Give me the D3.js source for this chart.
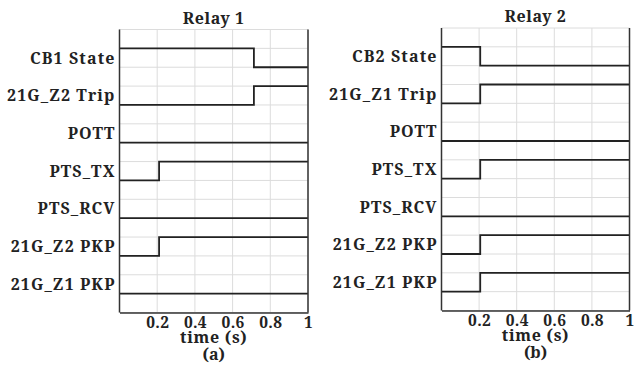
<!DOCTYPE html>
<html>
<head>
<meta charset="utf-8">
<script src="https://cdn.jsdelivr.net/npm/d3@7"></script>
<style>
  html, body { margin: 0; padding: 0; background: #fff; }
  svg { display: block; }
  text { font-family: "Noto Serif", "DejaVu Serif", serif; font-weight: bold; fill: #222; }
</style>
</head>
<body>
<svg id="chart" width="634" height="366"></svg>
<script>
// ---- data ----
const timeTicks = [0.2, 0.4, 0.6, 0.8, 1];
const timeLabel = "time (s)";

const relay1Title = "Relay 1";
const relay1Caption = "(a)";
const relay1Signals = ["CB1 State", "21G_Z2 Trip", "POTT", "PTS_TX", "PTS_RCV", "21G_Z2 PKP", "21G_Z1 PKP"];
// each signal: list of [time, state] change points (step after)
const relay1Steps = [
  [[0, 1], [0.713, 0]],
  [[0, 0], [0.713, 1]],
  [[0, 0]],
  [[0, 0], [0.21, 1]],
  [[0, 0]],
  [[0, 0], [0.21, 1]],
  [[0, 0]]
];

const relay2Title = "Relay 2";
const relay2Caption = "(b)";
const relay2Signals = ["CB2 State", "21G_Z1 Trip", "POTT", "PTS_TX", "PTS_RCV", "21G_Z2 PKP", "21G_Z1 PKP"];
const relay2Steps = [
  [[0, 1], [0.206, 0]],
  [[0, 0], [0.206, 1]],
  [[0, 0]],
  [[0, 0], [0.206, 1]],
  [[0, 0]],
  [[0, 0], [0.206, 1]],
  [[0, 0], [0.206, 1]]
];

// ---- drawing ----
const svg = d3.select("#chart");
const FS = 16;

function drawRelay(cfg) {
  const { left, right, top, bottom, title, caption, signals, steps } = cfg;
  const n = signals.length;
  const x = d3.scaleLinear().domain([0, 1]).range([left, right]);
  const y = d3.scaleLinear().domain([0, 2 * n + 1]).range([bottom, top]);
  const g = svg.append("g");

  // grid
  const gridX = [0].concat(timeTicks);
  g.selectAll(".gx").data(gridX).enter().append("line")
    .attr("x1", d => x(d)).attr("x2", d => x(d))
    .attr("y1", y(0)).attr("y2", y(2 * n + 1))
    .attr("stroke", "#dcdcdc").attr("stroke-width", 1);
  g.selectAll(".gy").data(d3.range(0, 2 * n + 2)).enter().append("line")
    .attr("x1", x(0)).attr("x2", x(1))
    .attr("y1", d => y(d)).attr("y2", d => y(d))
    .attr("stroke", "#dcdcdc").attr("stroke-width", 1);

  // signals
  const line = d3.line().curve(d3.curveStepAfter)
    .x(d => x(d[0])).y(d => d[1]);
  steps.forEach((s, i) => {
    const lo = 2 * (n - i) - 1, hi = 2 * (n - i);
    const pts = s.map(p => [p[0], y(p[1] ? hi : lo)]);
    pts.push([1, pts[pts.length - 1][1]]);
    g.append("path").attr("d", line(pts))
      .attr("fill", "none").attr("stroke", "#222").attr("stroke-width", 1.8);
  });

  // borders (left, right)
  g.append("line").attr("x1", x(0)).attr("x2", x(0)).attr("y1", y(0)).attr("y2", y(2 * n + 1))
    .attr("stroke", "#333").attr("stroke-width", 1.5);
  g.append("line").attr("x1", x(1)).attr("x2", x(1)).attr("y1", y(0)).attr("y2", y(2 * n + 1))
    .attr("stroke", "#333").attr("stroke-width", 1.5);

  // x axis
  const ax = g.append("g").attr("transform", `translate(0,${y(0)})`)
    .call(d3.axisBottom(x).tickValues(timeTicks).tickSize(0).tickPadding(4)
      .tickFormat(d => d === 1 ? "1" : d3.format(".1f")(d)));
  ax.select(".domain").attr("stroke", "#333").attr("stroke-width", 1.5);
  ax.selectAll("text").attr("font-size", 15.5).attr("letter-spacing", 0.3)
    .attr("fill", "#222").attr("dy", null).attr("y", 15.3);

  // signal labels
  g.selectAll(".lab").data(signals).enter().append("text")
    .attr("x", x(0) - 4)
    .attr("y", (d, i) => y(2 * (n - i) - 0.5))
    .attr("dy", "0.36em")
    .attr("text-anchor", "end")
    .attr("font-size", FS)
    .attr("letter-spacing", 1.1)
    .text(d => d);

  // title
  g.append("text").attr("x", (x(0) + x(1)) / 2).attr("y", top - 6)
    .attr("text-anchor", "middle").attr("font-size", FS).attr("letter-spacing", 0.55).text(title);
  // axis title & caption
  g.append("text").attr("x", (x(0) + x(1)) / 2).attr("y", bottom + 30.5)
    .attr("text-anchor", "middle").attr("font-size", FS).attr("letter-spacing", 0.7).text(timeLabel);
  g.append("text").attr("x", (x(0) + x(1)) / 2).attr("y", bottom + 47)
    .attr("text-anchor", "middle").attr("font-size", FS).text(caption);
}

drawRelay({ left: 119.5, right: 308, top: 29.5, bottom: 312.5,
  title: relay1Title, caption: relay1Caption, signals: relay1Signals, steps: relay1Steps });
drawRelay({ left: 441.5, right: 629.5, top: 28, bottom: 310.5,
  title: relay2Title, caption: relay2Caption, signals: relay2Signals, steps: relay2Steps });
</script>
</body>
</html>
